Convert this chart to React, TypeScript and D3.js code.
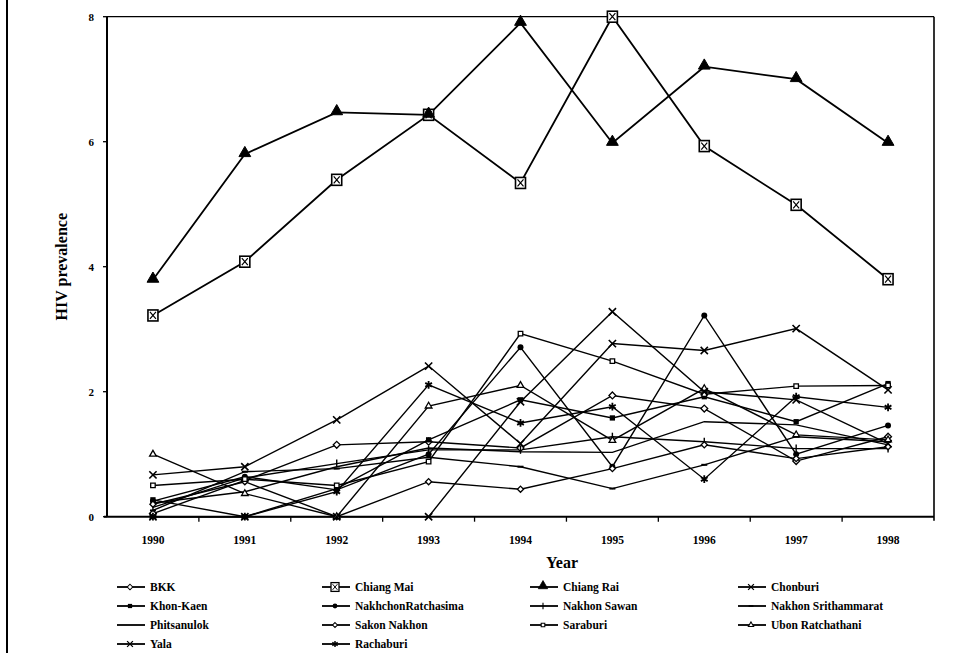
import React from "react";
import * as d3 from "d3";

const years = ["1990", "1991", "1992", "1993", "1994", "1995", "1996", "1997", "1998"];
const yTicks = [0, 2, 4, 6, 8];

const seriesNames = [
  "BKK", "Chiang Mai", "Chiang Rai", "Chonburi",
  "Khon-Kaen", "NakhchonRatchasima", "Nakhon Sawan", "Nakhon Srithammarat",
  "Phitsanulok", "Sakon Nakhon", "Saraburi", "Ubon Ratchathani",
  "Yala", "Rachaburi",
];

const bkk = [0.05, 0.58, 1.15, 1.2, 1.1, 1.94, 1.73, 0.89, 1.28];
const chiangMai = [3.22, 4.08, 5.39, 6.43, 5.34, 8.0, 5.93, 4.99, 3.8];
const chiangRai = [3.79, 5.8, 6.47, 6.43, 7.9, 5.98, 7.2, 7.0, 5.98];
const chonburi = [0.67, 0.8, 1.55, 2.41, 1.17, 2.77, 2.66, 3.01, 2.03];
const khonKaen = [0.27, 0.0, 0.45, 1.23, 1.87, 1.58, 1.92, 1.52, 2.13];
const nakhchonRatchasima = [0.25, 0.64, 0.43, 1.0, 2.71, 0.8, 3.22, 1.0, 1.46];
const nakhonSawan = [0.15, 0.62, 0.85, 1.07, 1.07, 1.28, 1.2, 1.09, 1.09];
const nakhonSrithammarat = [0.1, 0.72, 0.77, 0.95, 0.8, 0.45, 0.83, 1.28, 1.2];
const phitsanulok = [0.22, 0.4, 0.8, 1.1, 1.04, 1.03, 1.52, 1.47, 1.15];
const sakonNakhon = [0.2, 0.56, 0.0, 0.56, 0.44, 0.77, 1.15, 0.93, 1.12];
const saraburi = [0.5, 0.6, 0.5, 0.88, 2.93, 2.49, 1.96, 2.09, 2.1];
const ubonRatchathani = [1.0, 0.37, 0.0, 1.77, 2.1, 1.22, 2.05, 1.31, 1.23];
const yala = [0.0, 0.0, 0.0, 0.0, 1.84, 3.28, 2.0, 1.87, 1.17];
const rachaburi = [0.0, 0.0, 0.4, 2.11, 1.5, 1.76, 0.6, 1.92, 1.75];

const seriesValues = [
  bkk, chiangMai, chiangRai, chonburi,
  khonKaen, nakhchonRatchasima, nakhonSawan, nakhonSrithammarat,
  phitsanulok, sakonNakhon, saraburi, ubonRatchathani,
  yala, rachaburi,
];

const markerKinds = [
  "diamond", "boxx", "bigtri", "times",
  "fsquare", "fcircle", "vbar", "dash",
  "none", "sdiamond", "osquare", "otri",
  "times", "asterisk",
];

const FONT = "'Liberation Serif', 'DejaVu Serif', serif";

function Marker({ kind, x, y, s = 1 }: { kind: string; x: number; y: number; s?: number }) {
  const t = `translate(${x},${y}) scale(${s})`;
  const sym = (type: any, size: number) => d3.symbol().type(type).size(size)() as string;
  switch (kind) {
    case "diamond":
      return <path transform={t} d={sym(d3.symbolDiamond2, 30)} fill="#fff" stroke="#000" strokeWidth={1.3} />;
    case "sdiamond":
      return <path transform={t} d={sym(d3.symbolDiamond2, 24)} fill="#fff" stroke="#000" strokeWidth={1.3} />;
    case "boxx":
      return (
        <g transform={t}>
          <rect x={-5} y={-5.5} width={10} height={11} fill="#fff" stroke="#000" strokeWidth={1.6} />
          <path d="M-3,-3.5L3,3.5M3,-3.5L-3,3.5" stroke="#000" strokeWidth={1.2} />
        </g>
      );
    case "bigtri":
      return <path transform={`translate(${x},${y - 1}) scale(${s})`} d={sym(d3.symbolTriangle, 60)} fill="#000" stroke="#000" strokeWidth={1} />;
    case "times":
      return <path transform={t} d={sym(d3.symbolTimes, 36)} fill="none" stroke="#000" strokeWidth={1.6} />;
    case "asterisk":
      return <path transform={t} d={sym(d3.symbolAsterisk, 42)} fill="none" stroke="#000" strokeWidth={1.8} />;
    case "fsquare":
      return <path transform={t} d={sym(d3.symbolSquare, 28)} fill="#000" />;
    case "fcircle":
      return <path transform={t} d={sym(d3.symbolCircle, 28)} fill="#000" />;
    case "osquare":
      return <path transform={t} d={sym(d3.symbolSquare2, 26)} fill="#fff" stroke="#000" strokeWidth={1.3} />;
    case "otri":
      return <path transform={t} d={sym(d3.symbolTriangle2, 32)} fill="#fff" stroke="#000" strokeWidth={1.3} />;
    case "vbar":
      return <path transform={t} d="M0,-4V4" stroke="#000" strokeWidth={1.4} />;
    case "dash":
      return <path transform={t} d="M-3,0H3" stroke="#000" strokeWidth={2} />;
    default:
      return null;
  }
}

export default function App() {
  const W = 964;
  const H = 653;
  const left = 107, right = 934, top = 16.7, bottom = 516.7;

  const x = d3.scaleBand<string>().domain(years).range([left, right]).padding(0);
  const y = d3.scaleLinear().domain([0, 8]).range([bottom, top]);
  const cx = (yr: string) => (x(yr) as number) + x.bandwidth() / 2;

  const line = d3
    .line<number>()
    .x((_, i) => cx(years[i]))
    .y((v) => y(v));

  const legendCols = [117, 322, 530, 738];
  const legendRows = [587, 606, 625, 644];

  return (
    <svg
      width={W}
      height={H}
      style={{ position: "absolute", left: 0, top: 0, background: "#fff" }}
      fontFamily={FONT}
    >
      <rect x={0} y={0} width={W} height={H} fill="#fff" />
      <line x1={7} y1={0} x2={7} y2={H} stroke="#000" strokeWidth={2} />

      <line x1={left} y1={top} x2={right} y2={top} stroke="#000" strokeWidth={1.3} />
      <line x1={right} y1={top} x2={right} y2={bottom + 4} stroke="#000" strokeWidth={1.6} />
      <line x1={left} y1={top} x2={left} y2={bottom} stroke="#000" strokeWidth={2} />
      <line x1={left - 3} y1={bottom} x2={right} y2={bottom} stroke="#000" strokeWidth={2} />

      {yTicks.map((v) => (
        <g key={v}>
          <line x1={left - 4} x2={left} y1={y(v)} y2={y(v)} stroke="#000" strokeWidth={1.3} />
          <text x={left - 13} y={y(v) + 4} textAnchor="end" fontSize={11} fontWeight="bold">
            {v}
          </text>
        </g>
      ))}

      {years.slice(1).map((yr) => (
        <line key={yr} x1={x(yr)} x2={x(yr)} y1={bottom} y2={bottom + 5} stroke="#000" strokeWidth={1.3} />
      ))}
      {years.map((yr) => (
        <text key={yr} x={cx(yr)} y={544} textAnchor="middle" fontSize={11.5} fontWeight="bold">
          {yr}
        </text>
      ))}

      <text x={562} y={568} textAnchor="middle" fontSize={16} fontWeight="bold">
        Year
      </text>
      <text
        transform={`translate(67,${(top + bottom) / 2}) rotate(-90)`}
        textAnchor="middle"
        fontSize={16}
        fontWeight="bold"
      >
        HIV prevalence
      </text>

      {seriesValues.map((vals, i) => (
        <path
          key={seriesNames[i]}
          d={line(vals) as string}
          fill="none"
          stroke="#000"
          strokeWidth={i === 1 || i === 2 ? 1.8 : 1.4}
        />
      ))}
      {seriesValues.map((vals, i) =>
        vals.map((v, j) => <Marker key={`${i}-${j}`} kind={markerKinds[i]} x={cx(years[j])} y={y(v)} />)
      )}

      {seriesNames.map((name, i) => {
        const lx = legendCols[i % 4];
        const ly = legendRows[Math.floor(i / 4)];
        return (
          <g key={name}>
            <line x1={lx} x2={lx + 28} y1={ly} y2={ly} stroke="#000" strokeWidth={1.8} />
            <Marker kind={markerKinds[i]} x={lx + 13} y={ly} s={0.8} />
            <text x={lx + 33} y={ly + 4} fontSize={11.5} fontWeight="bold">
              {name}
            </text>
          </g>
        );
      })}
    </svg>
  );
}
